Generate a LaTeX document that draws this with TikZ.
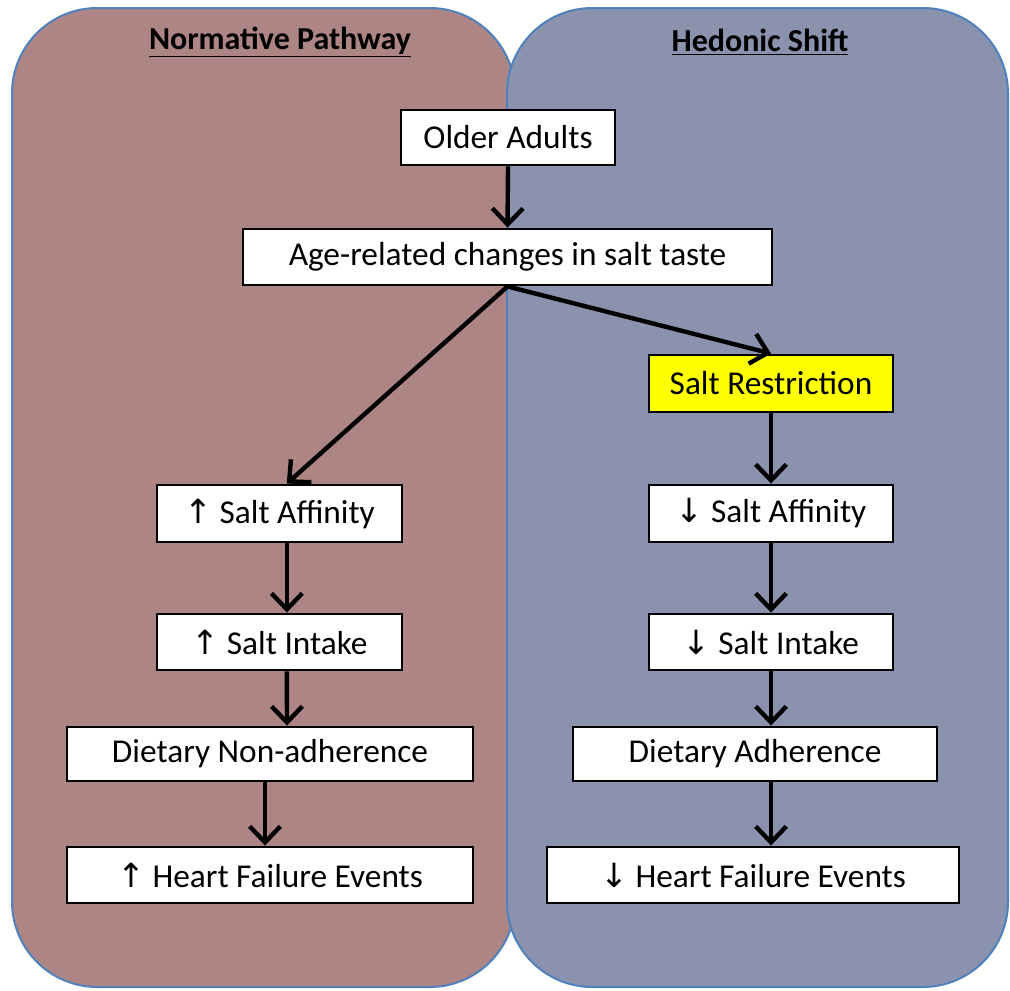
\documentclass[tikz,border=0pt]{standalone}
\usepackage{fontspec}
\setmainfont{Carlito}
\newfontfamily\arr{DejaVu Sans}
\usetikzlibrary{arrows.meta}
\definecolor{leftfill}{HTML}{AD8584}
\definecolor{rightfill}{HTML}{8B92AD}
\definecolor{panelline}{HTML}{4F81BD}
\definecolor{hiyellow}{HTML}{FFFF00}
\begin{document}
\begin{tikzpicture}[x=0.75pt,y=-0.75pt,
  panel/.style={draw=panelline,line width=1.5pt,rounded corners=64pt,inner sep=0pt,
    minimum height=734.25pt},
  box/.style={draw=black,line width=2.2pt,fill=white,inner sep=0pt,
    font=\fontsize{25}{30}\selectfont},
  link/.style={line width=3.3pt,-{Straight Barb[length=12pt,width=23pt]}},
  paneltitle/.style={font=\fontsize{24}{29}\selectfont\bfseries,inner sep=0pt}
]
\useasboundingbox (0,0) rectangle (1010,990);
\node[panel,fill=leftfill,minimum width=377.25pt] (lp) at (263.5,497.5) {};
\node[panel,fill=rightfill,minimum width=375.75pt] (rp) at (757.5,497.5) {};
\node[paneltitle] (lt) at (280,42) {\underline{Normative Pathway}};
\node[paneltitle] (rt) at (760,42) {\underline{Hedonic Shift}};

\node[box,minimum width=160.5pt,minimum height=41.25pt] (oa) at (508,137.5) {Older Adults};
\node[box,minimum width=396.75pt,minimum height=42pt] (age) at (507.5,257) {Age-related changes in salt taste};
\node[box,fill=hiyellow,minimum width=183pt,minimum height=42.75pt] (sr) at (771,383.5) {Salt Restriction};

\node[box,minimum width=183.75pt,minimum height=42.75pt] (afl) at (279.5,513.5) {{\arr↑} Salt Affinity};
\node[box,minimum width=183.75pt,minimum height=42pt] (inl) at (279.5,642) {{\arr↑} Salt Intake};
\node[box,minimum width=304.5pt,minimum height=40.5pt] (dnl) at (270,754) {Dietary Non-adherence};
\node[box,minimum width=304.5pt,minimum height=42pt] (hfl) at (270,875) {{\arr↑} Heart Failure Events};

\node[box,minimum width=183pt,minimum height=42.75pt] (afr) at (771,513.5) {{\arr↓} Salt Affinity};
\node[box,minimum width=183pt,minimum height=42pt] (inr) at (771,642) {{\arr↓} Salt Intake};
\node[box,minimum width=273pt,minimum height=40.5pt] (dar) at (755,754) {Dietary Adherence};
\node[box,minimum width=309pt,minimum height=42pt] (hfr) at (753,875) {{\arr↓} Heart Failure Events};

\draw[link] (oa.south) -- (age.north);
\draw[link] (age.south) -- ([xshift=5.5pt]afl.north);
\draw[link] (age.south) -- (sr.north);
\draw[link] (sr.south) -- (afr.north);
\draw[link] ([xshift=5.5pt]afl.south) -- ([xshift=5.5pt]inl.north);
\draw[link] ([xshift=5.5pt]inl.south) -- ([xshift=12.75pt]dnl.north);
\draw[link] ([xshift=-3.75pt]dnl.south) -- ([xshift=-3.75pt]hfl.north);
\draw[link] (afr.south) -- (inr.north);
\draw[link] (inr.south) -- ([xshift=12pt]dar.north);
\draw[link] ([xshift=12pt]dar.south) -- ([xshift=13.5pt]hfr.north);
\end{tikzpicture}
\end{document}
